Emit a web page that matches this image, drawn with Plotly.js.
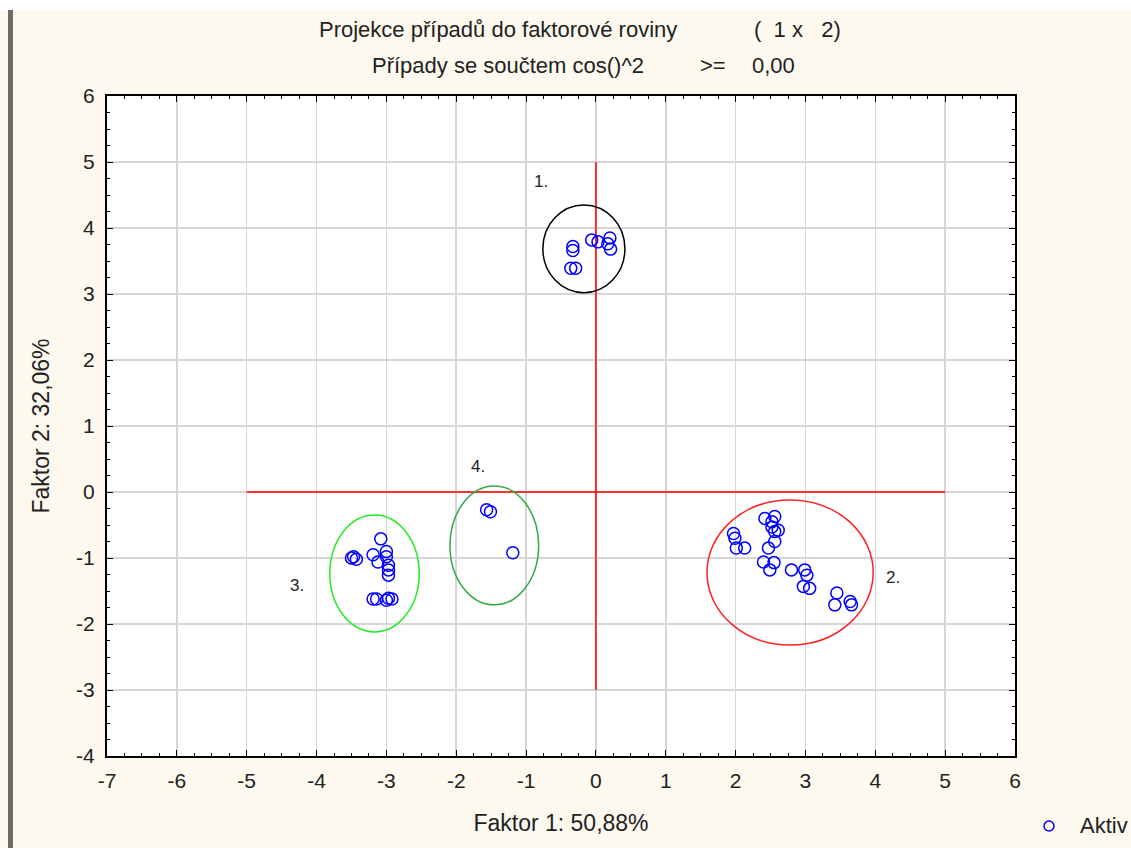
<!DOCTYPE html>
<html>
<head>
<meta charset="utf-8">
<script src="https://cdn.plot.ly/plotly-3.0.1.min.js"></script>
<style>
html,body{margin:0;padding:0;background:#fdf9ef;}
#wrap{position:relative;width:1131px;height:848px;overflow:hidden;}
#topstrip{position:absolute;left:0;top:0;width:1131px;height:10px;background:#ffffff;z-index:5;}
#leftbar{position:absolute;left:8px;top:10px;width:5px;height:838px;background:#6b6b6b;z-index:5;}
#chart{position:absolute;left:0;top:0;width:1131px;height:848px;}
</style>
</head>
<body>
<div id="wrap">
<div id="chart"></div>
<div id="topstrip"></div>
<div id="leftbar"></div>
</div>
<script>
// Cluster 1 points (Factor 1, Factor 2)
const c1x = [-0.33, -0.33, -0.36, -0.29, -0.06, 0.03, 0.20, 0.21, 0.17];
const c1y = [3.72, 3.66, 3.39, 3.39, 3.82, 3.79, 3.85, 3.68, 3.76];
// Cluster 2
const c2x = [1.97, 1.99, 2.01, 2.13, 2.42, 2.56, 2.52, 2.52, 2.61, 2.56, 2.56, 2.47, 2.40, 2.55, 2.49, 2.80, 2.99, 3.02, 2.97, 3.06, 3.45, 3.42, 3.64, 3.66];
const c2y = [-0.63, -0.70, -0.85, -0.85, -0.40, -0.37, -0.45, -0.53, -0.58, -0.60, -0.75, -0.85, -1.06, -1.07, -1.18, -1.18, -1.18, -1.26, -1.43, -1.46, -1.53, -1.71, -1.66, -1.71];
// Cluster 3
const c3x = [-3.08, -3.47, -3.43, -3.50, -3.19, -3.12, -3.00, -3.00, -2.97, -2.97, -2.97, -3.19, -3.14, -2.97, -2.92, -3.00];
const c3y = [-0.71, -0.98, -1.02, -1.00, -0.95, -1.06, -0.90, -0.98, -1.11, -1.18, -1.26, -1.62, -1.62, -1.61, -1.62, -1.64];
// Cluster 4
const c4x = [-1.565, -1.51, -1.19];
const c4y = [-0.27, -0.30, -0.92];

// Cluster ellipses: [x0, x1, y0, y1]
const ell1 = [-0.76, 0.415, 3.02, 4.35];
const ell2 = [1.59, 3.97, -2.32, -0.12];
const ell3 = [-3.81, -2.53, -2.12, -0.35];
const ell4 = [-2.09, -0.82, -1.71, 0.09];
const ellColors = ['#000000', '#ff2020', '#22ee22', '#33aa44'];

// Cluster labels
const labTexts = ['1.', '2.', '3.', '4.'];
const labX = [-0.78, 4.25, -4.28, -1.69];
const labY = [4.70, -1.30, -1.41, 0.39];

// Axis reference lines
const hLineX = [-5, 5], hLineY = [0, 0];
const vLineX = [0, 0], vLineY = [-3, 5];

const tickVals = [-7,-6,-5,-4,-3,-2,-1,0,1,2,3,4,5,6];
const yTickVals = [-4,-3,-2,-1,0,1,2,3,4,5,6];

// Title pieces
const titleParts = [
  ['Projekce případů do faktorové roviny', 317, 30],
  ['(\u00A0\u00A01 x\u00A0\u00A0\u00A02)', 752, 30],
  ['Případy se součtem cos()^2', 370, 65],
  ['>=', 698, 65],
  ['0,00', 750, 65]
];

const allX = c1x.concat(c2x, c3x, c4x);
const allY = c1y.concat(c2y, c3y, c4y);

const traces = [
  {x: hLineX, y: hLineY, mode: 'lines', line: {color: '#ff0000', width: 1.5}, showlegend: false, hoverinfo: 'skip'},
  {x: vLineX, y: vLineY, mode: 'lines', line: {color: '#ff0000', width: 1.5}, showlegend: false, hoverinfo: 'skip'},
  {x: allX, y: allY, mode: 'markers', name: 'Aktiv',
   marker: {symbol: 'circle-open', size: 12, color: '#0000ff', line: {width: 1.5, color: '#0000ff'}},
   showlegend: false}
];

const ells = [ell1, ell2, ell3, ell4];
const shapes = ells.map((e, i) => ({
  type: 'circle', xref: 'x', yref: 'y', x0: e[0], x1: e[1], y0: e[2], y1: e[3],
  line: {color: ellColors[i], width: 1.5}, layer: 'above'
}));
// legend marker
shapes.push({type: 'circle', xref: 'paper', yref: 'paper', xsizemode: 'pixel', ysizemode: 'pixel',
  xanchor: (1049 - 107) / 908, yanchor: (756 - 826) / 660, x0: -5, x1: 5, y0: -5, y1: 5,
  line: {color: '#0000ff', width: 1.5}});

const fontFam = 'Liberation Sans, Arial, sans-serif';
const txtColor = '#222222';
const annotations = labTexts.map((t, i) => ({
  x: labX[i], y: labY[i], xref: 'x', yref: 'y', text: t, showarrow: false,
  font: {family: fontFam, size: 17, color: txtColor}
}));
titleParts.forEach(p => annotations.push({
  xref: 'paper', yref: 'paper', x: (p[1] - 107) / 908, y: (756 - p[2]) / 660,
  text: p[0], showarrow: false, xanchor: 'left', yanchor: 'middle',
  font: {family: fontFam, size: 22, color: txtColor}
}));
annotations.push({xref: 'paper', yref: 'paper', x: (1078 - 107) / 908, y: (756 - 826) / 660,
  text: 'Aktiv', showarrow: false, xanchor: 'left', yanchor: 'middle',
  font: {family: fontFam, size: 22, color: txtColor}});

const layout = {
  width: 1131, height: 848,
  paper_bgcolor: '#fdf9ef', plot_bgcolor: '#ffffff',
  margin: {l: 107, r: 116, t: 96, b: 92},
  showlegend: false,
  font: {family: fontFam, size: 21, color: txtColor},
  xaxis: {
    range: [-7, 6], tickvals: tickVals, ticktext: tickVals.map(String),
    showgrid: true, gridcolor: '#d6d6d6', gridwidth: 1.5, zeroline: false,
    showline: true, linecolor: '#000000', linewidth: 2, mirror: 'ticks',
    ticks: 'inside', ticklen: 6, tickcolor: '#000000', tickwidth: 1,
    minor: {dtick: 0.25, tick0: 0, ticks: 'inside', ticklen: 3, tickcolor: '#000000', showgrid: false},
    ticklabelstandoff: 5,
    title: {text: 'Faktor 1: 50,88%', font: {family: fontFam, size: 23, color: txtColor}, standoff: 24},
    tickfont: {family: fontFam, size: 21, color: txtColor}
  },
  yaxis: {
    range: [-4, 6], tickvals: yTickVals, ticktext: yTickVals.map(String),
    showgrid: true, gridcolor: '#d6d6d6', gridwidth: 1.5, zeroline: false,
    showline: true, linecolor: '#000000', linewidth: 2, mirror: 'ticks',
    ticks: 'inside', ticklen: 6, tickcolor: '#000000', tickwidth: 1,
    minor: {dtick: 0.25, tick0: 0, ticks: 'inside', ticklen: 3, tickcolor: '#000000', showgrid: false},
    ticklabelstandoff: 6,
    title: {text: 'Faktor 2: 32,06%', font: {family: fontFam, size: 23, color: txtColor}, standoff: 20},
    tickfont: {family: fontFam, size: 21, color: txtColor}
  },
  shapes: shapes,
  annotations: annotations
};

Plotly.newPlot('chart', traces, layout, {staticPlot: true, displayModeBar: false});
</script>
</body>
</html>
